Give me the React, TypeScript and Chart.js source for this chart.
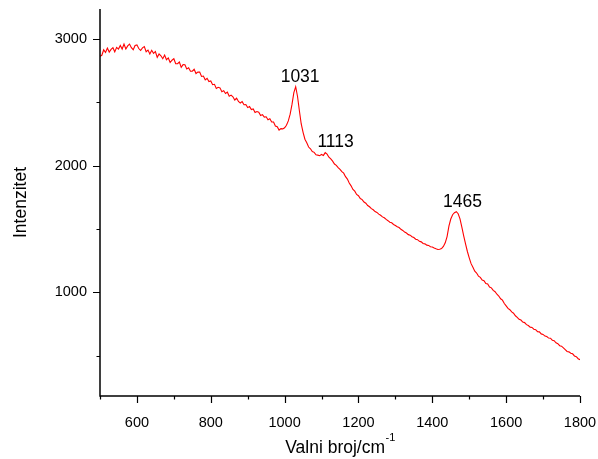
import React, { useEffect, useRef } from 'react';
import { Chart, registerables } from 'chart.js';

Chart.register(...registerables);

// Raman spectrum, sampled every 5 cm^-1 from 500 to 1800 cm^-1
const WAVENUMBER_START = 500;
const WAVENUMBER_STEP = 5;
const INTENSITY = [
  2862, 2870, 2913, 2892, 2927, 2895, 2916, 2930, 2897, 2932,
  2919, 2948, 2919, 2959, 2919, 2944, 2958, 2930, 2914, 2947,
  2952, 2923, 2908, 2928, 2939, 2898, 2911, 2880, 2909, 2885,
  2900, 2854, 2880, 2866, 2843, 2872, 2835, 2849, 2813, 2831,
  2843, 2803, 2803, 2817, 2775, 2796, 2795, 2762, 2771, 2744,
  2744, 2759, 2726, 2737, 2737, 2703, 2706, 2676, 2688, 2662,
  2667, 2638, 2641, 2608, 2617, 2613, 2582, 2591, 2568, 2579,
  2547, 2556, 2542, 2517, 2531, 2506, 2493, 2504, 2480, 2481,
  2457, 2465, 2442, 2447, 2418, 2426, 2421, 2394, 2402, 2382,
  2385, 2361, 2369, 2344, 2343, 2312, 2306, 2280, 2291, 2289,
  2298, 2318, 2352, 2405, 2482, 2575, 2622, 2545, 2432, 2328,
  2262, 2208, 2180, 2146, 2132, 2110, 2104, 2085, 2082, 2078,
  2088, 2080, 2102, 2090, 2066, 2052, 2035, 2012, 2002, 1984,
  1970, 1952, 1940, 1912, 1893, 1862, 1840, 1812, 1798, 1772,
  1762, 1740, 1731, 1712, 1703, 1685, 1675, 1660, 1651, 1637,
  1630, 1617, 1608, 1595, 1588, 1575, 1565, 1553, 1548, 1535,
  1527, 1517, 1511, 1497, 1488, 1475, 1468, 1455, 1451, 1439,
  1432, 1419, 1415, 1402, 1398, 1385, 1382, 1372, 1370, 1359,
  1357, 1349, 1343, 1338, 1340, 1345, 1362, 1390, 1440, 1522,
  1578, 1612, 1628, 1636, 1620, 1580, 1515, 1445, 1382, 1322,
  1272, 1226, 1198, 1166, 1152, 1128, 1118, 1097, 1092, 1070,
  1065, 1042, 1035, 1015, 1005, 985, 971, 949, 938, 912,
  893, 873, 863, 845, 835, 815, 803, 787, 781, 765,
  761, 745, 738, 725, 723, 709, 705, 689, 688, 672,
  668, 655, 651, 639, 638, 622, 618, 602, 595, 579,
  575, 562, 548, 533, 530, 520, 515, 498, 492, 476,
  468,
];

const X_MIN = 500;
const X_MAX = 1800;
const Y_MIN = 182;
const Y_MAX = 3235;
const X_MAJOR_TICKS = [600, 800, 1000, 1200, 1400, 1600, 1800];
const X_MINOR_TICKS = [500, 700, 900, 1100, 1300, 1500, 1700];
const Y_MAJOR_TICKS = [1000, 2000, 3000];
const Y_MINOR_TICKS = [500, 1500, 2500];

const PEAK_LABELS = ['1031', '1113', '1465'];
const PEAK_LABEL_X = [1042, 1138, 1482];
const PEAK_LABEL_Y = [2694, 2183, 1713];

const X_TITLE = 'Valni broj/cm';
const X_TITLE_SUP = '-1';
const Y_TITLE = 'Intenzitet';

const FONT = 'Arial, "Liberation Sans", sans-serif';

const overlayPlugin = {
  id: 'overlay',
  afterDraw(chart: any) {
    const ctx = chart.ctx as CanvasRenderingContext2D;
    const xs = chart.scales.x;
    const ys = chart.scales.y;
    const area = chart.chartArea;
    ctx.save();
    ctx.strokeStyle = '#000';
    ctx.lineWidth = 1.5;
    ctx.beginPath();
    ctx.moveTo(area.left, area.top);
    ctx.lineTo(area.left, area.bottom);
    ctx.lineTo(area.right, area.bottom);
    ctx.stroke();
    ctx.lineWidth = 1.2;
    ctx.beginPath();
    for (const v of X_MAJOR_TICKS) {
      const p = Math.round(xs.getPixelForValue(v)) + 0.5;
      ctx.moveTo(p, area.bottom);
      ctx.lineTo(p, area.bottom + 7);
    }
    for (const v of X_MINOR_TICKS) {
      const p = Math.round(xs.getPixelForValue(v)) + 0.5;
      ctx.moveTo(p, area.bottom);
      ctx.lineTo(p, area.bottom + 3.5);
    }
    for (const v of Y_MAJOR_TICKS) {
      const p = Math.round(ys.getPixelForValue(v)) + 0.5;
      ctx.moveTo(area.left, p);
      ctx.lineTo(area.left - 7, p);
    }
    for (const v of Y_MINOR_TICKS) {
      const p = Math.round(ys.getPixelForValue(v)) + 0.5;
      ctx.moveTo(area.left, p);
      ctx.lineTo(area.left - 3.5, p);
    }
    ctx.stroke();

    ctx.fillStyle = '#000';
    ctx.font = `17.5px ${FONT}`;
    ctx.textAlign = 'center';
    ctx.textBaseline = 'middle';
    PEAK_LABELS.forEach((t, i) => {
      ctx.fillText(t, xs.getPixelForValue(PEAK_LABEL_X[i]), ys.getPixelForValue(PEAK_LABEL_Y[i]));
    });

    ctx.textBaseline = 'alphabetic';
    ctx.textAlign = 'left';
    ctx.font = `17.5px ${FONT}`;
    const w1 = ctx.measureText(X_TITLE).width;
    ctx.font = `11px ${FONT}`;
    const w2 = ctx.measureText(X_TITLE_SUP).width;
    const cx = (area.left + area.right) / 2;
    const startX = cx - (w1 + w2) / 2;
    ctx.font = `17.5px ${FONT}`;
    ctx.fillText(X_TITLE, startX, 453);
    ctx.font = `11px ${FONT}`;
    ctx.fillText(X_TITLE_SUP, startX + w1 + 0.5, 441);

    ctx.save();
    ctx.translate(26, (area.top + area.bottom) / 2);
    ctx.rotate(-Math.PI / 2);
    ctx.font = `17.5px ${FONT}`;
    ctx.textAlign = 'center';
    ctx.textBaseline = 'alphabetic';
    ctx.fillText(Y_TITLE, 0, 0);
    ctx.restore();

    ctx.restore();
  },
};

const zeroPadding = (s: any) => {
  s.paddingTop = 0;
  s.paddingBottom = 0;
  s.paddingLeft = 0;
  s.paddingRight = 0;
};

export default function App() {
  const canvasRef = useRef<HTMLCanvasElement | null>(null);

  useEffect(() => {
    const canvas = canvasRef.current;
    if (!canvas) return;
    const points = INTENSITY.map((y, i) => ({ x: WAVENUMBER_START + i * WAVENUMBER_STEP, y }));
    const chart = new Chart(canvas, {
      type: 'line',
      data: {
        datasets: [
          {
            data: points,
            borderColor: '#ff0000',
            borderWidth: 1.1,
            pointRadius: 0,
            tension: 0,
            fill: false,
          },
        ],
      },
      options: {
        animation: false,
        responsive: false,
        maintainAspectRatio: false,
        devicePixelRatio: 1,
        layout: { padding: { top: 9, right: 18, left: 0, bottom: 0 } },
        plugins: {
          legend: { display: false },
          tooltip: { enabled: false },
          title: { display: false },
        },
        scales: {
          x: {
            type: 'linear',
            min: X_MIN,
            max: X_MAX,
            afterBuildTicks: (s: any) => {
              s.ticks = X_MAJOR_TICKS.map((v) => ({ value: v }));
            },
            afterFit: (s: any) => {
              s.height = 63;
              zeroPadding(s);
            },
            grid: { display: false, drawTicks: false },
            border: { display: false },
            ticks: {
              color: '#000',
              font: { family: FONT, size: 14.5 },
              padding: 18,
              maxRotation: 0,
              autoSkip: false,
              callback: (v: any) => String(v),
            },
          },
          y: {
            type: 'linear',
            min: Y_MIN,
            max: Y_MAX,
            afterBuildTicks: (s: any) => {
              s.ticks = Y_MAJOR_TICKS.map((v) => ({ value: v }));
            },
            afterFit: (s: any) => {
              s.width = 100;
              zeroPadding(s);
            },
            grid: { display: false, drawTicks: false },
            border: { display: false },
            ticks: {
              color: '#000',
              font: { family: FONT, size: 14.5 },
              padding: 13,
              callback: (v: any) => String(v),
            },
          },
        },
      },
      plugins: [overlayPlugin],
    });
    return () => chart.destroy();
  }, []);

  return (
    <div style={{ position: 'fixed', left: 0, top: 0, width: 598, height: 459, background: '#fff' }}>
      <canvas ref={canvasRef} width={598} height={459} style={{ width: 598, height: 459 }} />
    </div>
  );
}
